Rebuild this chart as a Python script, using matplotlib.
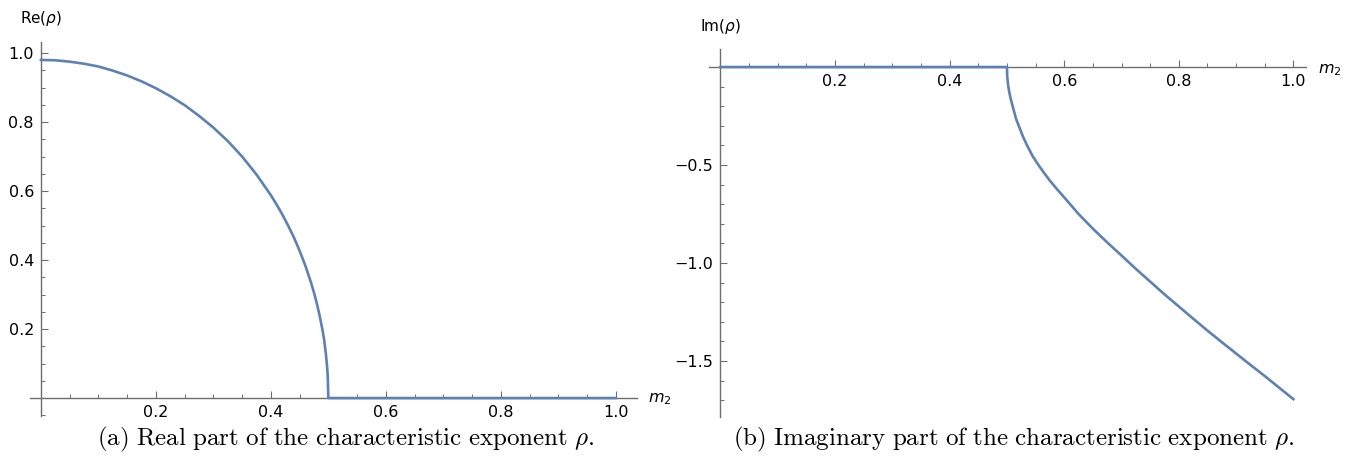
import matplotlib
matplotlib.use("Agg")
import matplotlib.pyplot as plt
from matplotlib.ticker import FixedLocator, MultipleLocator, FuncFormatter

# values
m2_re = [0.0, 0.025, 0.05, 0.075, 0.1, 0.125, 0.15, 0.175, 0.2, 0.225, 0.25,
         0.275, 0.3, 0.325, 0.35, 0.375, 0.4, 0.41, 0.42, 0.43, 0.44, 0.45,
         0.46, 0.47, 0.475, 0.48, 0.485, 0.49, 0.493, 0.496, 0.498, 0.499,
         0.5, 0.6, 0.8, 1.0]
re_rho = [0.98, 0.979, 0.975, 0.969, 0.961, 0.949, 0.935, 0.918, 0.898, 0.875,
          0.849, 0.818, 0.784, 0.745, 0.70, 0.648, 0.588, 0.561, 0.532, 0.50,
          0.466, 0.427, 0.384, 0.334, 0.306, 0.274, 0.238, 0.196, 0.166, 0.124,
          0.088, 0.062, 0.0, 0.0, 0.0, 0.0]

m2_im = [0.0, 0.2, 0.4, 0.5, 0.5005, 0.501, 0.502, 0.504, 0.507, 0.51, 0.516,
         0.522, 0.528, 0.536, 0.545, 0.555, 0.5635, 0.575, 0.587, 0.6, 0.625,
         0.65, 0.675, 0.7, 0.725, 0.75, 0.775, 0.8, 0.825, 0.85, 0.875, 0.9,
         0.925, 0.95, 0.975, 1.0]
im_rho = [0.0, 0.0, 0.0, 0.0, -0.045, -0.063, -0.09, -0.127, -0.167, -0.2,
          -0.265, -0.31, -0.355, -0.405, -0.455, -0.5, -0.535, -0.58, -0.622,
          -0.665, -0.75, -0.825, -0.895, -0.962, -1.03, -1.095, -1.16, -1.222,
          -1.284, -1.345, -1.404, -1.462, -1.52, -1.577, -1.636, -1.695]

x_major = [0.2, 0.4, 0.6, 0.8, 1.0]
re_major = [0.2, 0.4, 0.6, 0.8, 1.0]
im_major = [-0.5, -1.0, -1.5]

W, H = 1356, 463
line_col = "#5e81b5"
axis_col = "#6e6e6e"


def px_axes(fig, left, right, top, bottom):
    return fig.add_axes([left / W, (H - bottom) / H, (right - left) / W, (bottom - top) / H])


def fmt(v, pos):
    return f"{v:.1f}".replace("-", "\u2212")


def style(ax, ymajor, yminor):
    for s in ["top", "right"]:
        ax.spines[s].set_visible(False)
    ax.spines["left"].set_position(("data", 0))
    ax.spines["bottom"].set_position(("data", 0))
    for s in ["left", "bottom"]:
        ax.spines[s].set_color(axis_col)
        ax.spines[s].set_linewidth(1.0)
    ax.xaxis.set_major_locator(FixedLocator(x_major))
    ax.xaxis.set_minor_locator(MultipleLocator(0.05))
    ax.yaxis.set_major_locator(FixedLocator(ymajor))
    ax.yaxis.set_minor_locator(MultipleLocator(yminor))
    ax.xaxis.set_major_formatter(FuncFormatter(fmt))
    ax.yaxis.set_major_formatter(FuncFormatter(fmt))
    ax.tick_params(which="major", direction="in", length=5, width=0.8,
                   color=axis_col, labelsize=11.5, pad=5)
    ax.tick_params(which="minor", direction="in", length=3, width=0.7, color=axis_col)
    ax.patch.set_visible(False)


fig = plt.figure(figsize=(W / 100, H / 100), dpi=100)

# (a) real part
ax1 = px_axes(fig, 30, 637, 42, 416)
ax1.plot(m2_re, re_rho, color=line_col, lw=1.9, zorder=5, clip_on=False)
ax1.set_xlim(-0.019, 1.037)
ax1.set_ylim(-0.052, 1.032)
style(ax1, re_major, 0.05)
fig.text(41 / W, 1 - 18 / H, r"Re($\rho$)", ha="center", va="center", fontsize=11)
fig.text(648 / W, 1 - 399 / H, r"$m_2$", ha="left", va="center", fontsize=11.5)
fig.text(346 / W, 1 - 439 / H,
         r"$\mathrm{(a)\ Real\ part\ of\ the\ characteristic\ exponent}\ \rho.$",
         ha="center", va="center", fontsize=18, math_fontfamily="cm")

# (b) imaginary part
ax2 = px_axes(fig, 709, 1306, 49, 417)
ax2.plot(m2_im, im_rho, color=line_col, lw=1.9, zorder=5, clip_on=False)
ax2.set_xlim(-0.020, 1.022)
ax2.set_ylim(-1.786, 0.092)
style(ax2, im_major, 0.1)
fig.text(721 / W, 1 - 27 / H, r"Im($\rho$)", ha="center", va="center", fontsize=11)
fig.text(1318 / W, 1 - 70 / H, r"$m_2$", ha="left", va="center", fontsize=11.5)
fig.text(1014 / W, 1 - 439 / H,
         r"$\mathrm{(b)\ Imaginary\ part\ of\ the\ characteristic\ exponent}\ \rho.$",
         ha="center", va="center", fontsize=18, math_fontfamily="cm")

fig.savefig("out.png", dpi=100)
